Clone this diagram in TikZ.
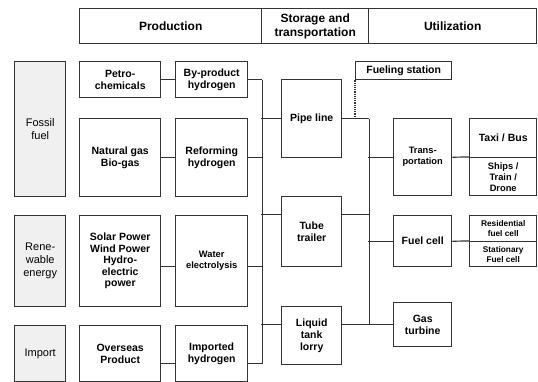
\documentclass[tikz,border=0pt]{standalone}
\usepackage{fontspec}
\setmainfont{Liberation Sans}
\usetikzlibrary{positioning}
\tikzset{
	every node/.style={inner sep=1pt, align=center},
	box/.style={
		draw=black!80,
		line width=1.4pt,
		fill=white,
		anchor=north west,
		font=\fontsize{10.5}{12}\selectfont\bfseries
	},
	head/.style={box, minimum height=35pt, font=\fontsize{12}{14}\selectfont\bfseries},
	src/.style={box, fill=gray!12, minimum width=51pt, font=\fontsize{11}{13}\selectfont},
	small/.style={font=\fontsize{9.3}{11}\selectfont\bfseries},
	tiny/.style={font=\fontsize{8.3}{10}\selectfont\bfseries},
	link/.style={draw=black!80, line width=1.2pt}
}
\begin{document}
\begin{tikzpicture}[x=1pt, y=-1pt]
	\useasboundingbox (0,0) rectangle (538,382);
	% headers
	\node[head, minimum width=182pt] (hprod) at (79,8) {Production};
	\node[head, minimum width=107pt] (hstor) at (261,8) {Storage and\\transportation};
	\node[head, minimum width=168pt] (hutil) at (368,8) {Utilization};
	% sources
	\node[src, minimum height=135pt] (fossil) at (14,61) {Fossil\\fuel};
	\node[src, minimum height=91pt] (renew) at (14,215) {Rene-\\wable\\energy};
	\node[src, minimum height=56pt] (import) at (14,325) {Import};
	% production
	\node[box, minimum width=81pt, minimum height=36pt] (petro) at (79,61) {Petro-\\chemicals};
	\node[box, minimum width=81pt, minimum height=78pt] (natgas) at (79,118) {Natural gas\\Bio-gas};
	\node[box, minimum width=81pt, minimum height=91pt, font=\fontsize{10.5}{11.5}\selectfont\bfseries] (solar) at (79,215) {Solar Power\\Wind Power\\Hydro-\\electric\\power};
	\node[box, minimum width=81pt, minimum height=56pt] (overseas) at (79,325) {Overseas\\Product};
	\node[box, minimum width=72pt, minimum height=36pt] (byprod) at (175,61) {By-product\\hydrogen};
	\node[box, minimum width=72pt, minimum height=78pt] (reform) at (175,118) {Reforming\\hydrogen};
	\node[box, small, minimum width=72pt, minimum height=91pt] (water) at (175,215) {Water\\electrolysis};
	\node[box, minimum width=72pt, minimum height=56pt] (imported) at (175,325) {Imported\\hydrogen};
	% storage and transportation
	\node[box, minimum width=60pt, minimum height=78pt] (pipe) at (281,79) {Pipe line};
	\node[box, minimum width=60pt, minimum height=70pt] (tube) at (281,196) {Tube\\trailer};
	\node[box, minimum width=60pt, minimum height=58pt] (liquid) at (281,306) {Liquid\\tank\\lorry};
	\node[box, minimum width=96pt, minimum height=18pt] (fueling) at (355,61) {Fueling station};
	% utilization
	\node[box, small, minimum width=58pt, minimum height=77pt] (trans) at (393,118) {Trans-\\portation};
	\node[box, minimum width=58pt, minimum height=51pt] (fuelcell) at (393,215) {Fuel cell};
	\node[box, minimum width=58pt, minimum height=44pt] (gasturb) at (393,302) {Gas\\turbine};
	\node[box, minimum width=67pt, minimum height=39pt] (taxi) at (469,118) {Taxi / Bus};
	\node[box, small, minimum width=67pt, minimum height=38pt] (ships) at (469,157) {Ships /\\Train /\\Drone};
	\node[box, tiny, minimum width=67pt, minimum height=26pt] (resid) at (469,215) {Residential\\fuel cell};
	\node[box, tiny, minimum width=67pt, minimum height=25pt] (stat) at (469,241) {Stationary\\Fuel cell};
	% connectors
	\draw[link] (petro) -- (byprod);
	\draw[link] (natgas) -- (reform);
	\draw[link] ([yshift=-5.5pt]solar.east) -- ([yshift=-5.5pt]water.west);
	\draw[link] ([yshift=-10pt]overseas.east) -- ([yshift=-10pt]imported.west);
	\draw[link] (byprod.east) -- ++(14,0) coordinate (bus1top);
	\draw[link] (reform.east) -- ++(14,0);
	\draw[link] ([yshift=-5.5pt]water.east) -- ++(14,0);
	\draw[link] ([yshift=-10pt]imported.east) -- ++(14,0) coordinate (bus1bot);
	\draw[link] (bus1top) -- (bus1bot);
	\draw[link] (pipe.west) -- ++(-20,0);
	\draw[link] ([yshift=17pt]tube.west) -- ++(-20,0);
	\draw[link] ([yshift=11pt]liquid.west) -- ++(-20,0);
	\draw[link] (pipe.east) -- ++(27,0) coordinate (bus2top);
	\draw[link] ([yshift=17pt]tube.east) -- ++(27,0);
	\draw[link] ([yshift=11pt]liquid.east) -- ++(27,0) coordinate (bus2bot);
	\draw[link] (bus2top) -- (bus2bot);
	\draw[link, densely dotted] (fueling.south west) -- (fueling.south west |- pipe.east);
	\draw[link] (trans.west) -- ++(-25,0);
	\draw[link] (fuelcell.west) -- ++(-25,0);
	\draw[link] (gasturb.west) -- ++(-25,0);
	\draw[link] (trans.east) -- (ships.north west);
	\draw[link] (fuelcell.east) -- (stat.north west);
\end{tikzpicture}
\end{document}
